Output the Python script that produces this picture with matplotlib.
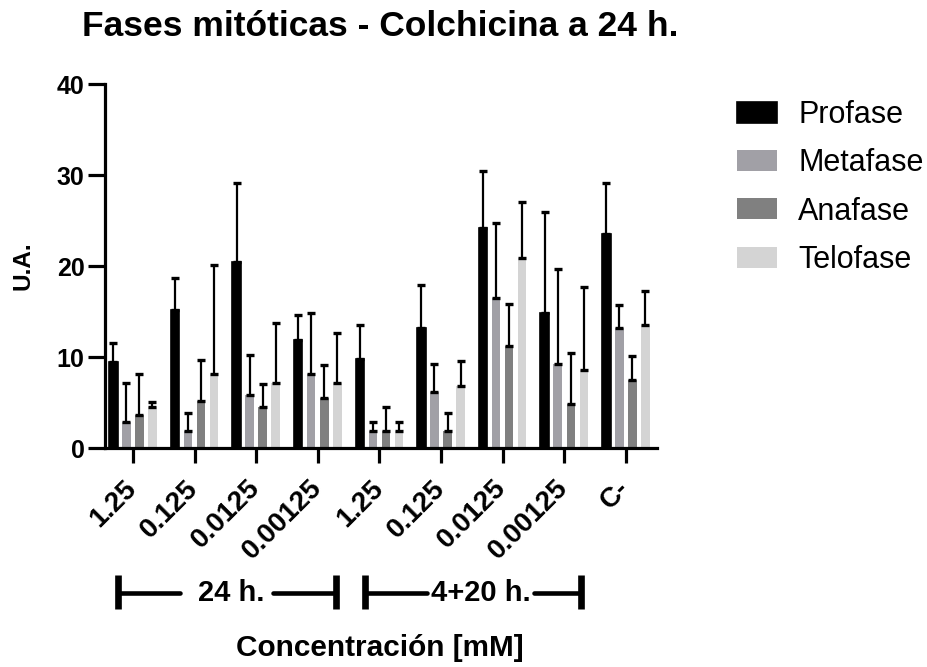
import numpy as np
import matplotlib
matplotlib.use("Agg")
import matplotlib.pyplot as plt
from matplotlib import transforms
from matplotlib.lines import Line2D

plt.rcParams['font.family'] = ['Liberation Sans', 'DejaVu Sans']

# ---- data ----
categories = ["1.25", "0.125", "0.0125", "0.00125", "1.25", "0.125", "0.0125", "0.00125", "C-"]
series_names = ["Profase", "Metafase", "Anafase", "Telofase"]

profase = [9.5, 15.2, 20.5, 11.9, 9.85, 13.2, 24.2, 14.8, 23.5]
profase_sd = [2.1, 3.5, 8.6, 2.7, 3.65, 4.7, 6.2, 11.1, 5.6]
metafase = [2.9, 1.9, 5.9, 8.2, 1.9, 6.2, 16.5, 9.2, 13.2]
metafase_sd = [4.3, 2.0, 4.35, 6.6, 1.0, 3.1, 8.2, 10.5, 2.55]
anafase = [3.6, 5.2, 4.5, 5.5, 1.9, 1.9, 11.2, 4.9, 7.5]
anafase_sd = [4.6, 4.5, 2.6, 3.6, 2.6, 2.0, 4.6, 5.6, 2.6]
telofase = [4.5, 8.2, 7.2, 7.2, 1.9, 6.85, 20.9, 8.6, 13.5]
telofase_sd = [0.6, 11.9, 6.5, 5.5, 1.0, 2.75, 6.1, 9.1, 3.8]

group_labels = ["24 h.", "4+20 h."]
y_ticks = [0, 10, 20, 30, 40]

means = [profase, metafase, anafase, telofase]
sds = [profase_sd, metafase_sd, anafase_sd, telofase_sd]
colors = ["#000000", "#a1a0a6", "#808080", "#d4d4d4"]

# ---- figure ----
fig = plt.figure(figsize=(9.28, 6.67), dpi=100)
ax = fig.add_axes([0.113, 0.328, 0.595, 0.546])

x = np.arange(len(categories))
offsets = [-0.318, -0.106, 0.106, 0.318]
width = 0.138
handles = []
for vals, err, col, off, name in zip(means, sds, colors, offsets, series_names):
    b = ax.bar(x + off, vals, width=width, color=col,
               edgecolor=("black" if col == "#000000" else col),
               linewidth=(1.2 if col == "#000000" else 0), label=name, zorder=2)
    handles.append(b)
    ax.errorbar(x + off, vals, yerr=[np.zeros(len(vals)), err], fmt="none",
                ecolor="black", elinewidth=1.6, capsize=3, capthick=2.4, zorder=3)

ax.set_xlim(-0.455, 8.506)
ax.set_ylim(0, 40)
ax.set_yticks(y_ticks)
ax.set_xticks(x)
ax.set_xticklabels(categories, rotation=45, ha="right", va="center",
                   rotation_mode="anchor", fontsize=20, fontweight="bold")
ax.set_yticklabels([str(t) for t in y_ticks], fontsize=18, fontweight="bold")
for s in ["top", "right"]:
    ax.spines[s].set_visible(False)
for s in ["left", "bottom"]:
    ax.spines[s].set_linewidth(2.3)
ax.tick_params(axis="y", length=12.5, width=2.3, pad=2)
ax.tick_params(axis="x", length=11, width=2.3, pad=15)

ax.set_ylabel("U.A.", fontsize=17.5, fontweight="bold")
ax.yaxis.set_label_coords(-0.127, 0.5)

fig.text(380 / 928, 1 - 27 / 667, "Fases mitóticas - Colchicina a 24 h.",
         ha="center", va="center", fontsize=25.5, fontweight="bold")
fig.text(380 / 928, 1 - 648 / 667, "Concentración [mM]",
         ha="center", va="center", fontsize=21.4, fontweight="bold")

# group brackets below the category labels
tr = transforms.blended_transform_factory(ax.transData, fig.transFigure)
yb = 1 - 593 / 667
yb_lo, yb_hi = 1 - 609 / 667, 1 - 575 / 667
# (left end, left line stop, right line start, right end, label centre)
brackets = [(-0.235, 0.76, 2.27, 3.30, 1.59), (3.76, 4.765, 6.515, 7.27, 5.65)]
for (x0, t0, t1, x1, tc), lab in zip(brackets, group_labels):
    for xs in ([x0, t0], [t1, x1]):
        ax.add_line(Line2D(xs, [yb, yb], transform=tr, color="black", lw=3.3,
                           solid_capstyle="round", clip_on=False))
    for xv in (x0, x1):
        ax.add_line(Line2D([xv, xv], [yb_lo, yb_hi], transform=tr, color="black",
                           lw=4.8, solid_capstyle="butt", clip_on=False))
    ax.text(tc, yb, lab, transform=tr, ha="center", va="center",
            fontsize=21, fontweight="bold")

fig.legend(handles=handles, labels=series_names, loc="upper left",
           bbox_to_anchor=(737 / 928, 1 - 100 / 667), frameon=False,
           fontsize=22, handlelength=1.3, handleheight=0.68, handletextpad=0.7,
           labelspacing=0.6, borderpad=0, borderaxespad=0)

fig.savefig("out.png", dpi=100)
